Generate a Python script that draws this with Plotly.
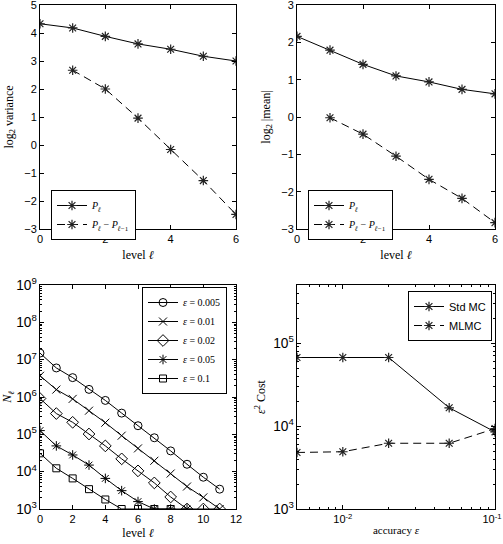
import plotly.graph_objects as go

# ---- data ----
levels = [0, 1, 2, 3, 4, 5, 6]
var_P = [4.33, 4.18, 3.88, 3.61, 3.42, 3.17, 3.00]
levels_d = [1, 2, 3, 4, 5, 6]
var_dP = [2.67, 2.00, 0.96, -0.16, -1.27, -2.48]
mean_P = [2.16, 1.79, 1.41, 1.10, 0.94, 0.74, 0.62]
mean_dP = [-0.02, -0.46, -1.05, -1.67, -2.18, -2.83]

eps_labels = ["0.005", "0.01", "0.02", "0.05", "0.1"]
Nl_005 = [1.5e7, 6.0e6, 3.3e6, 1.6e6, 8.1e5, 3.7e5, 1.7e5, 8.1e4, 3.6e4, 1.58e4, 7.1e3, 3.4e3]
Nl_01 = [3.7e6, 1.58e6, 8.9e5, 4.3e5, 2.05e5, 9.2e4, 4.2e4, 1.96e4, 8.9e3, 4.0e3, 2.05e3, 1.0e3]
Nl_02 = [9.1e5, 3.6e5, 2.1e5, 1.02e5, 4.9e4, 2.2e4, 1.05e4, 5.0e3, 2.1e3, 1.0e3, 1.0e3, 1.0e3]
Nl_05 = [1.26e5, 4.9e4, 2.8e4, 1.5e4, 6.6e3, 3.1e3, 1.58e3, 1.0e3, 1.0e3, 1.0e3]
Nl_1 = [3.1e4, 1.23e4, 6.6e3, 3.4e3, 1.8e3, 1.0e3, 1.0e3, 1.0e3, 1.0e3]

accuracy = [0.005, 0.01, 0.02, 0.05, 0.1]
cost_std = [6.7e4, 6.7e4, 6.7e4, 1.66e4, 8.5e3]
cost_mlmc = [4.8e3, 4.9e3, 6.2e3, 6.2e3, 9.3e3]

level_ticks = [0, 2, 4, 6, 8, 10, 12]
acc_ticks = [0.01, 0.1]
acc_ticktext = ["10<sup>-2</sup>", "10<sup>-1</sup>&nbsp;&nbsp;"]

SANS = "Liberation Sans, Arial, sans-serif"
SERIF = "Liberation Serif, DejaVu Serif, serif"
ELL = "<i>ℓ</i>"

fig = go.Figure()

star = dict(symbol="asterisk-open", size=8, color="#222", line=dict(color="#222", width=1.2))
line_solid = dict(color="black", width=1)
line_dash = dict(color="black", width=1, dash="8px,5px")

# Top-left
fig.add_trace(go.Scatter(x=levels, y=var_P, mode="lines+markers", marker=star, line=line_solid,
                         name="<i>P</i><sub>" + ELL + "</sub>", xaxis="x", yaxis="y", legend="legend"))
fig.add_trace(go.Scatter(x=levels_d, y=var_dP, mode="lines+markers", marker=star, line=line_dash,
                         name="<i>P</i><sub>" + ELL + "</sub> − <i>P</i><sub>" + ELL + "−1</sub>",
                         xaxis="x", yaxis="y", legend="legend"))
# Top-right
fig.add_trace(go.Scatter(x=levels, y=mean_P, mode="lines+markers", marker=star, line=line_solid,
                         name="<i>P</i><sub>" + ELL + "</sub>", xaxis="x2", yaxis="y2", legend="legend2"))
fig.add_trace(go.Scatter(x=levels_d, y=mean_dP, mode="lines+markers", marker=star, line=line_dash,
                         name="<i>P</i><sub>" + ELL + "</sub> − <i>P</i><sub>" + ELL + "−1</sub>",
                         xaxis="x2", yaxis="y2", legend="legend2"))

# Bottom-left
series = [Nl_005, Nl_01, Nl_02, Nl_05, Nl_1]
symbols = ["circle-open", "x-thin-open", "diamond-open", "asterisk-open", "square-open"]
sizes = [8, 8, 9, 8, 7]
for vals, sym, sz, lab in zip(series, symbols, sizes, eps_labels):
    fig.add_trace(go.Scatter(x=list(range(len(vals))), y=vals, mode="lines+markers",
                             marker=dict(symbol=sym, size=sz, color="black", line=dict(color="black", width=1)),
                             line=line_solid, name="<i>ε</i> = " + lab,
                             xaxis="x3", yaxis="y3", legend="legend3"))

# Bottom-right
fig.add_trace(go.Scatter(x=accuracy, y=cost_std, mode="lines+markers", marker=star, line=line_solid,
                         name="Std MC", xaxis="x4", yaxis="y4", legend="legend4"))
fig.add_trace(go.Scatter(x=accuracy, y=cost_mlmc, mode="lines+markers", marker=star, line=line_dash,
                         name="MLMC", xaxis="x4", yaxis="y4", legend="legend4"))

W, H = 503, 544
def px_x(p):
    return p / W
def px_y(p):
    return 1 - p / H

common = dict(showline=True, linecolor="black", linewidth=1, mirror="allticks", ticks="inside",
              ticklen=4, tickcolor="black", showgrid=False, zeroline=False, automargin=False,
              ticklabeloverflow="allow",
              tickfont=dict(family=SANS, size=11, color="black"))
title_font = dict(family=SERIF, size=12, color="black")
minor = dict(ticks="inside", ticklen=2, tickcolor="black", showgrid=False)

dTopY = [px_y(229), px_y(5)]
dBotY = [px_y(509), px_y(285)]
dLX = [px_x(40), px_x(236)]
dRX = [px_x(297), px_x(495)]

fig.update_layout(
    width=W, height=H, margin=dict(l=0, r=0, t=0, b=0, autoexpand=False),
    paper_bgcolor="white", plot_bgcolor="white",
    xaxis=dict(domain=dLX, anchor="y", range=[0, 6], tickmode="array", tickvals=level_ticks[:4],
               title=dict(text="level " + ELL, font=title_font, standoff=6), **common),
    yaxis=dict(domain=dTopY, anchor="x", range=[-3, 5], dtick=1,
               title=dict(text="log<sub>2</sub> variance", font=title_font, standoff=8), **common),
    xaxis2=dict(domain=dRX, anchor="y2", range=[0, 6], tickmode="array", tickvals=level_ticks[:4],
                title=dict(text="level " + ELL, font=title_font, standoff=6), **common),
    yaxis2=dict(domain=dTopY, anchor="x2", range=[-3, 3], dtick=1,
                title=dict(text="log<sub>2</sub> |mean|", font=title_font, standoff=8), **common),
    xaxis3=dict(domain=dLX, anchor="y3", range=[0, 12], tickmode="array", tickvals=level_ticks,
                title=dict(text="level " + ELL, font=title_font, standoff=4), **common),
    yaxis3=dict(domain=dBotY, anchor="x3", type="log", range=[3, 9], dtick=1, exponentformat="power",
                minor=minor,
                title=dict(text="<i>N</i><sub>" + ELL + "</sub>", font=title_font, standoff=2), **common),
    xaxis4=dict(domain=dRX, anchor="y4", type="log", range=[-2.30103, -1],
                tickmode="array", tickvals=acc_ticks, ticktext=acc_ticktext,
                minor=dict(ticks="inside", ticklen=2, tickcolor="black", showgrid=False, dtick="D1"),
                title=dict(text="accuracy <i>ε</i>", font=dict(family=SERIF, size=11, color="black"), standoff=2),
                **common),
    yaxis4=dict(domain=dBotY, anchor="x4", type="log", range=[3, 5.7], dtick=1, exponentformat="power",
                minor=minor,
                title=dict(text="<i>ε</i><sup>2</sup> Cost", font=title_font, standoff=4), **common),
)

leg_common = dict(bordercolor="black", borderwidth=1, bgcolor="white", xanchor="left", yanchor="top",
                  font=dict(family=SERIF, size=10, color="black"), itemwidth=30, tracegroupgap=0)
fig.update_layout(
    legend=dict(x=px_x(51), y=px_y(190), **leg_common),
    legend2=dict(x=px_x(308), y=px_y(190), **leg_common),
    legend3=dict(x=px_x(142), y=px_y(287), **leg_common),
    legend4=dict(x=px_x(408), y=px_y(291), **{**leg_common, "font": dict(family=SANS, size=11, color="black")}),
)

fig.write_html("out.html", config={"displayModeBar": False},
               post_script="document.body.style.margin='0';document.body.style.overflow='hidden';")
